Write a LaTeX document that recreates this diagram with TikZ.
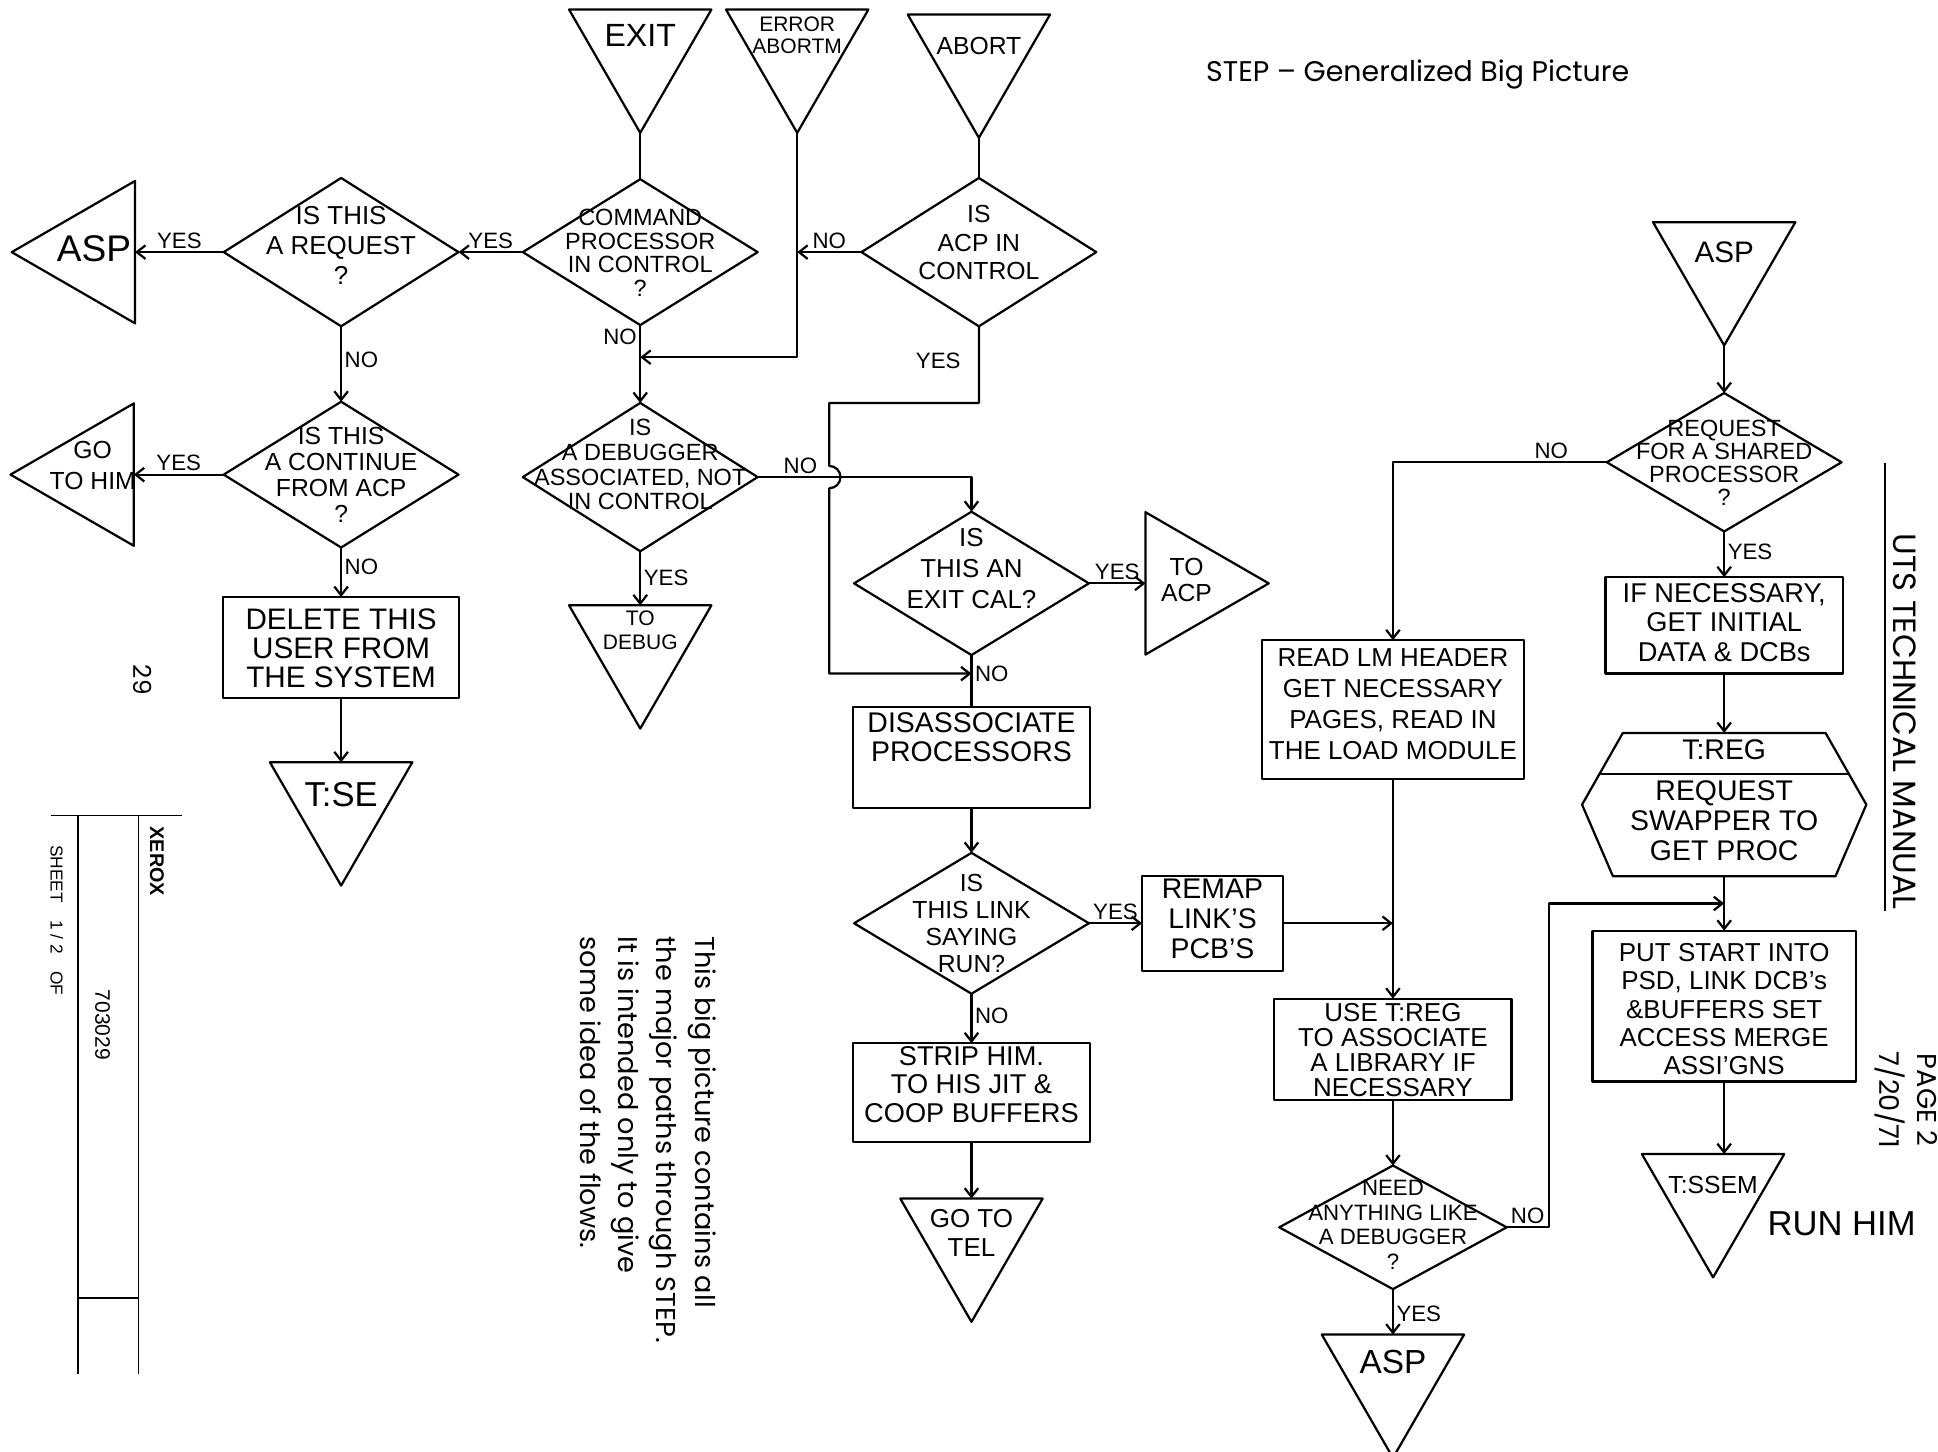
\documentclass[tikz,border=0pt]{standalone}
\usepackage{fontspec}
\setmainfont{Liberation Sans}
\newfontfamily\typed{Poppins}
\usetikzlibrary{arrows.meta,calc,shapes.geometric}
\newcommand{\hand}[2]{\fontsize{#1}{#2}\selectfont}
\newcommand{\ztext}[2][0]{\makebox[0pt]{\raisebox{\dimexpr#1pt-0.25em\relax}[0pt][0pt]{\begin{tabular}{@{}c@{}}#2\end{tabular}}}}
\tikzset{decision/.style={diamond,draw,minimum width=190,minimum height=118,inner sep=0pt,outer sep=0pt,font={\hand{19}{21}}},
 process/.style={rectangle,draw,inner sep=0pt,outer sep=0pt},
 offpage/.style={regular polygon,regular polygon sides=3,draw,minimum size=133,inner sep=0pt,outer sep=0pt},
 flow/.style={-{Straight Barb[length=7pt,width=11pt]}},
 answer/.style={font={\hand{18}{18}},inner sep=2pt},
 printed/.style={font={\typed\fontsize{#1}{31}\selectfont}}}

\begin{document}
\begin{tikzpicture}[x=1pt,y=-1pt,line width=1.8pt,line join=round]
\useasboundingbox (0,0) rectangle (1568,1174);
% entry points along the top
\node[offpage,shape border rotate=180,font={\hand{26}{26}}] (exit) at (518,41) {\ztext[9]{EXIT}};
\node[offpage,shape border rotate=180,font={\hand{17}{18}}] (errabt) at (645,41) {\ztext[10]{ERROR\\ABORTM}};
\node[offpage,shape border rotate=180,font={\hand{20}{20}}] (abort) at (792,45) {\ztext[5]{ABORT}};

% left half
\node[decision,font={\hand{19}{19}}] (cp) at (518,204) {\ztext[-3]{COMMAND\\PROCESSOR\\IN CONTROL\\?}};
\node[decision,font={\hand{20}{23}},minimum height=120] (acp) at (792,204) {\ztext[5]{IS\\ACP IN\\CONTROL}};
\node[decision,font={\hand{21}{24}},minimum height=120] (req) at (276,204) {\ztext[3]{IS THIS\\A REQUEST\\?}};
\node[offpage,shape border rotate=90,font={\hand{30}{30}}] (asp1) at (76,204) {\ztext{ASP}};
\node[decision,font={\hand{20}{21}}] (cont) at (276,384) {\ztext[-3]{IS THIS\\A CONTINUE\\FROM ACP\\?}};
\node[offpage,shape border rotate=90,font={\hand{20}{25}}] (gohim) at (75,384) {\ztext[5]{GO\\TO HIM}};
\node[process,minimum width=191,minimum height=82,font={\hand{24}{23}}] (delete) at (276,524) {\ztext[-4]{DELETE THIS\\USER FROM\\THE SYSTEM}};
\node[offpage,shape border rotate=180,font={\hand{28}{28}}] (tise) at (276,650) {\ztext[4]{T:SE}};
\node[decision,font={\hand{19}{20}},minimum height=120] (dbg) at (518,386) {\ztext[8]{IS\\A DEBUGGER\\ASSOCIATED, NOT\\IN CONTROL}};
\node[offpage,shape border rotate=180,font={\hand{17}{19}}] (todebug) at (518,523) {\ztext[11]{TO\\DEBUG}};

% middle column
\node[decision,font={\hand{21}{25}},minimum height=116] (exitcal) at (786,472) {\ztext[10]{IS\\THIS AN\\EXIT CAL?}};
\node[offpage,shape border rotate=-90,font={\hand{20}{21}}] (toacp) at (960,472) {\ztext{TO\\ACP}};
\node[process,minimum width=192,minimum height=82,font={\hand{23}{24}}] (disassoc) at (786,613) {\ztext[13]{DISASSOCIATE\\PROCESSORS}};
\node[decision,font={\hand{20}{22}},minimum height=114] (link) at (786,747) {\ztext[-3]{IS\\THIS LINK\\SAYING\\RUN?}};
\node[process,minimum width=114,minimum height=77,font={\hand{23}{24}}] (remap) at (981,747) {\ztext{REMAP\\LINK'S\\PCB'S}};
\node[process,minimum width=192,minimum height=80,font={\hand{22}{23}}] (strip) at (786,884) {\ztext[4]{STRIP HIM.\\TO HIS JIT \&\\COOP BUFFERS}};
\node[offpage,shape border rotate=180,font={\hand{21}{24}}] (gotel) at (786,1003) {\ztext[3]{GO TO\\TEL}};

% load module column
\node[process,minimum width=212,minimum height=112,font={\hand{21}{25}}] (readlm) at (1127,574) {\ztext[2]{READ LM HEADER\\GET NECESSARY\\PAGES, READ IN\\THE LOAD MODULE}};
\node[process,minimum width=192,minimum height=82,font={\hand{21}{19}}] (use) at (1127,849) {\ztext[-3]{USE T:REG\\TO ASSOCIATE\\A LIBRARY IF\\NECESSARY}};
\node[decision,font={\hand{18}{20}},minimum width=184,minimum height=100] (need) at (1127,993) {\ztext{NEED\\ANYTHING LIKE\\A DEBUGGER\\?}};
\node[offpage,shape border rotate=180,font={\hand{27}{27}}] (asp3) at (1127,1113) {\ztext[8]{ASP}};

% shared processor column
\node[offpage,shape border rotate=180,font={\hand{24}{24}}] (asp2) at (1395,213) {\ztext[5]{ASP}};
\node[decision,font={\hand{19}{18}},minimum height=112] (shared) at (1395,374) {\ztext[-3]{REQUEST\\FOR A SHARED\\PROCESSOR\\?}};
\node[process,minimum width=192,minimum height=78,font={\hand{22}{24}}] (ifnec) at (1395,506) {\ztext{IF NECESSARY,\\GET INITIAL\\DATA \& DCBs}};
\node[font={\hand{23}{24}}] (treg) at (1395,651) {\ztext{T:REG\\[9pt]REQUEST\\SWAPPER TO\\GET PROC}};
\draw ($(treg)+(-115,0)$) -- ++(33,-58) -- ++(164,0) -- ++(33,58) -- ++(-25,58) -- ++(-180,0) -- cycle;
\draw ($(treg)+(-101,-25)$) -- ($(treg)+(101,-25)$);
\coordinate (treg-top) at ($(treg)+(0,-58)$);
\coordinate (treg-bot) at ($(treg)+(0,58)$);
\node[process,minimum width=213,minimum height=122,font={\hand{21}{23}}] (put) at (1395,814) {\ztext[-5]{PUT START INTO\\PSD, LINK DCB's\\\&BUFFERS SET\\ACCESS MERGE\\ASSI'GNS}};
\node[offpage,shape border rotate=180,font={\hand{20}{20}}] (tissem) at (1386,967) {\ztext[5]{T:SSEM}};
\node[font={\hand{28}{28}}] (runhim) at (1490,990) {RUN HIM};

% connectors
\draw (exit.corner 1) -- (cp.north);
\draw (abort.corner 1) -- (acp.north);
\coordinate (errturn) at (645,289);
\draw[flow] (errabt.corner 1) -- (errturn) -- (cp.south |- errturn);
\draw[flow] (acp.west) -- node[answer,above] (acp-no) {NO} (acp.west -| errabt.corner 1);
\draw[flow] (cp.west) -- node[answer,above] (cp-yes) {YES} (req.east);
\draw[flow] (req.west) -- node[answer,above] (req-yes) {YES} (asp1.side 2);
\draw[flow] (req.south) -- node[answer,right,pos=.45] (req-no) {NO} (cont.north);
\draw[flow] (cont.west) -- node[answer,above] (cont-yes) {YES} (gohim.side 2);
\draw[flow] (cont.south) -- node[answer,right,pos=.4] (cont-no) {NO} (delete.north);
\draw[flow] (delete.south) -- (tise.side 2);
\draw[flow] (cp.south) -- node[answer,left,pos=.15] (cp-no) {NO} (dbg.north);
\draw[flow] (dbg.south) -- node[answer,right,pos=.5] (dbg-yes) {YES} (todebug.side 2);
\draw[flow] (dbg.east) -| node[answer,above,pos=.1] (dbg-no) {NO} (exitcal.north);
% yes from ACP hops over the NO line
\coordinate (yesturn) at (671,326);
\coordinate (nojoin) at (786,545);
\draw[flow] (acp.south) -- node[answer,left=12pt,pos=.45] (acp-yes) {YES} (acp.south |- yesturn) -- (yesturn)
  -- ($(yesturn |- dbg.east)+(0,-9)$) arc[start angle=-90,end angle=90,radius=9] -- (yesturn |- nojoin) -- (nojoin);
\draw[flow] (exitcal.east) -- node[answer,above] (exitcal-yes) {YES} (toacp.side 2);
\draw (exitcal.south) -- node[answer,right,pos=.36] (exitcal-no) {NO} (disassoc.north);
\draw[flow] (disassoc.south) -- (link.north);
\draw[flow] (link.east) -- node[answer,above] (link-yes) {YES} (remap.west);
\draw[flow] (link.south) -- node[answer,right,pos=.45] (link-no) {NO} (strip.north);
\draw[flow] (strip.south) -- (gotel.side 2);
\draw[flow] (asp2.corner 1) -- (shared.north);
\draw[flow] (shared.south) -- node[answer,right,pos=.45] (shared-yes) {YES} (ifnec.north);
\draw[flow] (shared.west) -| node[answer,above,pos=.13] (shared-no) {NO} (readlm.north);
\draw[flow] (ifnec.south) -- (treg-top);
\draw[flow] (treg-bot) -- (put.north);
\draw[flow] (put.south) -- (put.south |- tissem.side 2);
\draw[flow] (readlm.south) -- (use.north);
\coordinate (remapjoin) at (readlm.south |- remap.east);
\draw[flow] (remap.east) -- (remapjoin);
\draw[flow] (use.south) -- (need.north);
\draw[flow] (need.south) -- node[answer,right,pos=.55] (need-yes) {YES} (asp3.side 2);
\coordinate (noturn) at (1253,731);
\draw[flow] (need.east) -| node[answer,above,pos=.25] (need-no) {NO} (noturn) -- (put.north |- noturn);

% printed page furniture
\node[printed=23] (title) at (1147,60) {STEP – Generalized Big Picture};
\node[printed=22,rotate=-90,anchor=north west,align=left,inner sep=0pt] (blurb) at (580,757) {This big picture contains all\\the major paths through STEP.\\It is intended only to give\\some idea of the flows.};
\node[printed=26,rotate=-90,anchor=west,inner sep=0pt] (uts) at (1541,431) {UTS TECHNICAL MANUAL};
\draw (1525,375) -- (1525,737);
\node[printed=22,rotate=-90,align=center,inner sep=0pt] (page) at (1542,890) {PAGE 2\\7/20/71};
\node[printed=20,rotate=-90] (folio) at (115,550) {29};
\draw[line width=1.2pt] (41,660) -- (147,660) (63,660) -- (63,1112) (112,660) -- (112,1112) (63,1050) -- (112,1050);
\node[rotate=-90,anchor=west,inner sep=0pt,font={\hand{16}{16}\bfseries}] (xerox) at (127,668) {XEROX};
\node[rotate=-90,anchor=west,inner sep=0pt,font={\hand{17}{17}}] (sheetno) at (83,800) {703029};
\node[rotate=-90,anchor=west,inner sep=0pt,font={\hand{14}{14}}] (sheet) at (46,683) {SHEET\quad 1 / 2\quad OF};
\end{tikzpicture}
\end{document}
